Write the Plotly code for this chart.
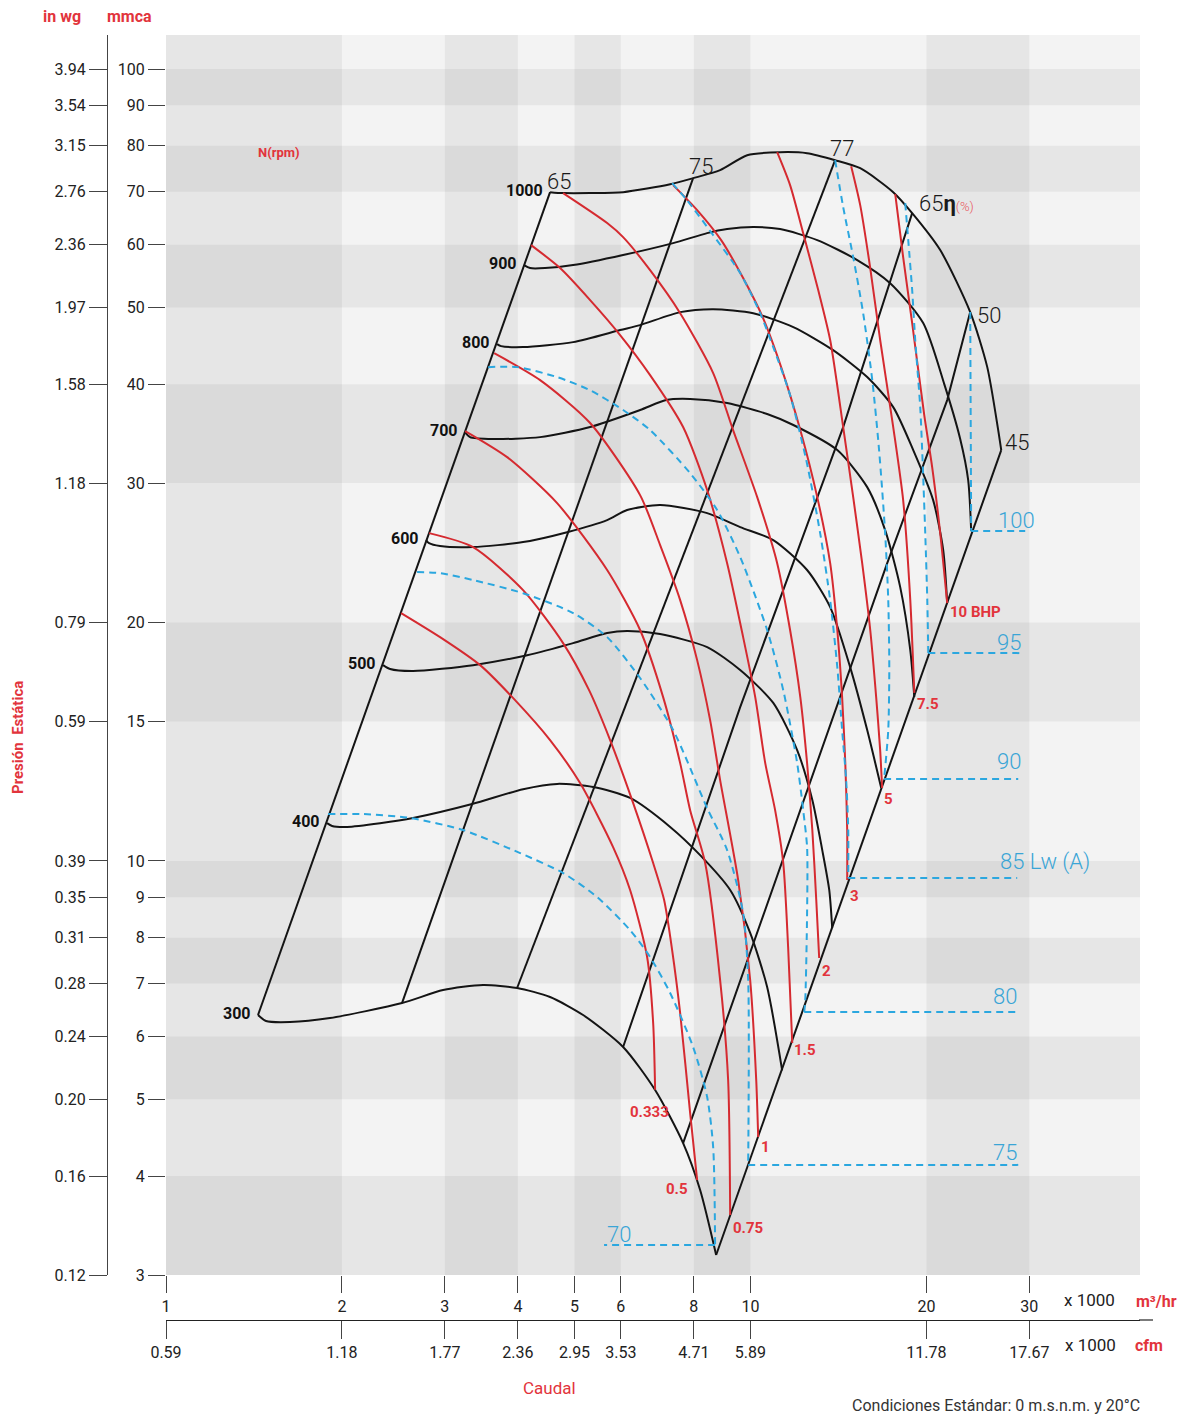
import math
import plotly.graph_objects as go

# ---------------- axis ticks ----------------
Q_TICKS = [1, 2, 3, 4, 5, 6, 8, 10, 20, 30]            # m3/hr x1000
CFM_TEXT = ["0.59", "1.18", "1.77", "2.36", "2.95", "3.53", "4.71", "5.89", "11.78", "17.67"]
P_TICKS = [3, 4, 5, 6, 7, 8, 9, 10, 15, 20, 30, 40, 50, 60, 70, 80, 90, 100]   # mmca
INWG_TEXT = ["0.12", "0.16", "0.20", "0.24", "0.28", "0.31", "0.35", "0.39", "0.59", "0.79",
             "1.18", "1.58", "1.97", "2.36", "2.76", "3.15", "3.54", "3.94"]
X_RANGE = [1.0, 46.4]
Y_RANGE = [3.0, 110.4]
COL_DARK = [(1, 2), (3, 4), (5, 6), (8, 10), (20, 30)]
ROW_DARK = [(3, 4), (5, 6), (7, 8), (9, 10), (15, 20), (30, 40), (50, 60), (70, 80), (90, 100)]

# ---------------- fan curves (N rpm): flow m3/hr x1000, pressure mmca ----------------
Q_300 = [1.437, 1.483, 1.630, 1.908, 2.534, 2.979, 3.487, 3.988, 4.541, 5.172, 6.055, 6.869, 7.670, 8.202, 8.736]
P_300 = [6.389, 6.278, 6.259, 6.333, 6.615, 6.869, 6.972, 6.911, 6.732, 6.389, 5.822, 5.137, 4.403, 3.841, 3.180]
Q_400 = [1.886, 1.924, 2.041, 2.324, 2.647, 3.340, 4.083, 4.669, 5.380, 6.224, 7.288, 8.202, 9.232, 9.989, 10.68, 11.33]
P_400 = [11.16, 11.07, 11.04, 11.16, 11.33, 11.80, 12.32, 12.51, 12.40, 12.01, 11.04, 10.17, 9.19, 8.11, 6.93, 5.44]
Q_500 = [2.352, 2.418, 2.647, 3.353, 4.148, 4.973, 5.686, 6.152, 7.006, 8.432, 9.603, 10.94, 12.02, 12.76, 13.27, 13.64, 13.80]
P_500 = [17.67, 17.47, 17.37, 17.67, 18.19, 18.84, 19.40, 19.51, 19.34, 18.62, 17.42, 15.83, 13.80, 11.94, 10.32, 9.19, 8.23]
Q_600 = [2.786, 2.819, 2.944, 3.353, 4.083, 4.856, 5.686, 6.152, 7.006, 8.432, 9.603, 10.94, 12.50, 13.69, 14.81, 15.84, 16.74]
P_600 = [25.42, 25.19, 24.98, 24.91, 25.27, 26.01, 26.94, 27.74, 28.14, 27.49, 26.40, 25.42, 23.30, 20.92, 17.57, 14.63, 12.36]
Q_700 = [3.249, 3.313, 3.627, 4.366, 5.317, 6.474, 7.173, 7.885, 9.122, 10.68, 11.84, 14.08, 15.84, 17.00, 18.04, 18.77, 19.07]
P_700 = [34.79, 34.29, 34.10, 34.29, 35.31, 37.10, 38.19, 38.31, 37.86, 36.67, 35.52, 33.02, 29.65, 26.17, 22.17, 18.46, 16.10]
Q_800 = [3.686, 3.744, 4.083, 4.973, 5.984, 6.474, 7.581, 8.634, 10.11, 11.84, 13.85, 15.84, 17.55, 18.99, 20.54, 21.37, 21.71]
P_800 = [44.94, 44.68, 44.55, 45.20, 46.81, 47.49, 49.32, 49.75, 49.17, 47.22, 44.16, 40.83, 37.42, 33.02, 28.55, 24.69, 21.16]
Q_900 = [4.099, 4.197, 4.452, 4.973, 6.055, 7.374, 8.432, 9.122, 10.11, 11.24, 13.01, 15.23, 17.34, 19.75, 21.46, 22.85, 23.58, 23.86]
P_900 = [56.55, 56.06, 56.06, 56.55, 58.23, 60.28, 62.06, 62.79, 63.16, 62.79, 60.81, 57.38, 53.65, 47.77, 40.00, 34.10, 30.26, 26.09]
Q_1000 = [4.541, 4.780, 5.317, 6.055, 7.288, 7.978, 8.874, 9.872, 11.24, 12.50, 13.96, 15.41, 17.55, 18.91, 21.12, 23.77, 25.42, 26.54, 26.86]
P_1000 = [69.91, 69.71, 69.71, 69.91, 71.54, 72.81, 74.53, 77.84, 78.52, 78.29, 76.72, 74.95, 69.91, 65.77, 59.07, 49.32, 42.03, 35.00, 33.02]
RPM_NAMES = ["300", "400", "500", "600", "700", "800", "900", "1000"]

# ---------------- efficiency lines (system curves) ----------------
Q_E65A = [1.437, 4.541];                 P_E65A = [6.389, 69.91]
Q_E75 = [2.534, 7.978];                  P_E75 = [6.615, 72.81]
Q_E77 = [3.988, 13.96];                  P_E77 = [6.911, 76.72]
Q_E65B = [6.055, 9.603, 14.41, 18.91];   P_E65B = [5.822, 15.64, 35.31, 65.77]
Q_E50 = [7.670, 17.14, 21.71, 23.77];    P_E50 = [4.403, 23.77, 38.19, 49.32]
Q_E45 = [8.736, 26.86];                  P_E45 = [3.180, 33.02]
EFF_NAMES = ["65", "75", "77",
             "65<b>η</b><span style='color:#e8575d;font-size:13px'>(%)</span>", "50", "45"]

# ---------------- absorbed power curves (BHP) ----------------
Q_B0333 = [2.525, 2.944, 3.447, 3.956, 4.541, 5.111, 5.821, 6.224, 6.656, 6.816, 6.869]
P_B0333 = [20.56, 19.17, 17.67, 15.96, 14.21, 12.54, 10.41, 9.188, 7.562, 6.242, 5.14]
Q_B05 = [2.819, 3.353, 4.083, 4.780, 5.295, 5.753, 6.300, 6.816, 7.117, 7.345, 7.581, 7.885, 8.106]
P_B05 = [25.94, 24.91, 21.98, 18.84, 16.43, 14.21, 11.83, 9.938, 8.925, 7.718, 6.426, 4.804, 3.954]
Q_B075 = [3.249, 3.834, 4.669, 5.686, 6.474, 7.089, 7.581, 7.885, 8.366, 8.874, 9.158, 9.232]
P_B075 = [34.90, 32.35, 28.30, 23.30, 19.57, 16.10, 13.29, 11.59, 9.938, 7.073, 5.289, 3.571]
Q_B1 = [3.643, 4.366, 5.317, 6.474, 7.006, 7.581, 8.106, 8.531, 8.874, 9.528, 9.989, 10.23, 10.31]
P_B1 = [43.77, 40.47, 35.73, 28.97, 25.05, 21.35, 17.93, 15.06, 12.65, 9.458, 7.073, 5.289, 4.480]
Q_B15 = [4.214, 4.724, 5.317, 5.984, 6.734, 7.670, 8.432, 9.122, 9.716, 10.19, 10.60, 11.02, 11.38, 11.60, 11.79]
P_B15 = [59.93, 56.06, 51.07, 46.14, 41.07, 35.31, 29.40, 23.77, 19.17, 16.10, 13.29, 11.59, 9.938, 7.785, 5.889]
Q_B2 = [4.780, 5.686, 6.055, 6.734, 7.581, 8.634, 9.339, 10.27, 11.11, 11.69, 12.17, 12.50, 12.76, 12.96, 13.11]
P_B2 = [69.71, 63.90, 61.34, 55.72, 49.17, 41.31, 35.00, 28.80, 23.77, 19.57, 16.10, 13.29, 10.94, 8.925, 7.541]
Q_B3 = [7.374, 8.106, 8.910, 9.716, 10.51, 11.33, 12.17, 13.01, 13.69, 14.08, 14.35, 14.53, 14.64, 14.64]
P_B3 = [71.35, 66.35, 60.81, 54.45, 48.47, 41.67, 35.00, 28.80, 23.77, 19.57, 16.10, 13.29, 10.94, 9.458]
Q_B5 = [11.11, 11.69, 12.36, 13.06, 13.69, 14.41, 14.99, 15.53, 16.03, 16.41, 16.67, 16.80]
P_B5 = [78.52, 71.35, 61.34, 52.59, 45.48, 35.31, 28.80, 23.77, 19.57, 16.10, 13.80, 12.36]
Q_B75 = [14.87, 15.41, 16.03, 16.67, 17.55, 18.25, 18.77, 19.07]
P_B75 = [75.39, 67.32, 56.06, 45.48, 35.31, 28.55, 21.35, 16.30]
Q_B10 = [17.69, 18.25, 18.91, 19.83, 20.46, 21.12, 21.71]
P_B10 = [69.51, 57.88, 47.77, 36.57, 31.43, 25.94, 21.16]
BHP_NAMES = ["0.333", "0.5", "0.75", "1", "1.5", "2", "3", "5", "7.5", "10 BHP"]

# ---------------- sound power curves Lw(A) (last point = end of leader line) ----------------
Q_L70 = [1.894, 2.174, 2.616, 3.223, 4.036, 4.780, 5.465, 6.224, 6.734, 7.288, 7.978, 8.432, 8.634, 8.70, 5.617]
P_L70 = [11.46, 11.46, 11.33, 10.94, 10.23, 9.655, 9.004, 8.177, 7.562, 6.811, 5.822, 5.033, 4.351, 3.273, 3.273]
Q_L75 = [2.689, 2.944, 3.353, 4.083, 4.973, 5.686, 6.474, 7.374, 8.432, 9.122, 9.716, 9.911, 9.911, 28.72]
P_L75 = [23.16, 23.09, 22.63, 21.78, 20.56, 19.17, 17.02, 14.63, 11.66, 10.32, 8.594, 7.073, 4.132, 4.132]
Q_L80 = [3.557, 3.988, 4.669, 5.317, 6.055, 6.734, 7.885, 8.770, 9.603, 10.68, 11.38, 12.02, 12.31, 12.50, 12.50, 12.41, 12.36, 28.60]
P_L80 = [42.03, 42.03, 40.83, 39.30, 37.10, 35.00, 30.88, 27.74, 24.20, 19.57, 16.43, 13.29, 11.59, 10.41, 8.594, 6.673, 6.445, 6.445]
Q_L85 = [7.345, 7.788, 8.634, 9.603, 10.39, 10.94, 11.69, 12.46, 13.16, 13.69, 14.08, 14.35, 14.58, 14.70, 14.70, 28.60]
P_L85 = [71.77, 68.31, 61.69, 55.25, 49.17, 44.55, 38.75, 32.07, 25.94, 21.35, 17.57, 14.63, 12.65, 10.94, 9.515, 9.515]
Q_L90 = [13.96, 14.41, 14.99, 15.59, 16.16, 16.60, 17.00, 17.21, 17.28, 17.21, 16.93, 28.72]
P_L90 = [76.72, 66.94, 57.88, 49.17, 40.47, 33.02, 25.94, 21.35, 17.57, 14.63, 12.69, 12.69]
Q_L95 = [18.40, 18.62, 18.91, 19.14, 19.52, 19.67, 19.91, 20.07, 20.15, 28.94]
P_L95 = [67.71, 60.81, 52.59, 45.48, 37.42, 33.02, 25.94, 21.35, 18.30, 18.30]
Q_L100 = [23.77, 23.86, 29.52]
P_L100 = [49.32, 26.09, 26.09]
LW_NAMES = ["70", "75", "80", "85 Lw (A)", "90", "95", "100"]

# ---------------- layout / style ----------------
W, H = 1183, 1419
ML, MR, MT, MB = 80, 20, 35, 60
PW, PH = W - ML - MR, H - MT - MB


def fx(px):
    return (px - ML) / PW


def fy(py):
    return (H - MB - py) / PH


X_DOM = [fx(166), fx(1140)]
Y_DOM = [fy(1275), fy(35)]
LX = [math.log10(v) for v in X_RANGE]
LY = [math.log10(v) for v in Y_RANGE]

BLACK = "#141414"
RED = "#d52a30"
RED_TXT = "#e2343c"
BLUE = "#2ba7df"
BLUE_TXT = "#3aa5d6"
TXT = "#222222"
ROBOTO = "Roboto, sans-serif"

fig = go.Figure()


def add_line(q, p, color, width=2.0, dash=None, spline=True):
    fig.add_trace(go.Scatter(
        x=q, y=p, mode="lines",
        line=dict(color=color, width=width, dash=dash,
                  shape="spline" if spline else "linear", smoothing=0.7),
        hoverinfo="skip", showlegend=False))


RPM = [(Q_300, P_300), (Q_400, P_400), (Q_500, P_500), (Q_600, P_600),
       (Q_700, P_700), (Q_800, P_800), (Q_900, P_900), (Q_1000, P_1000)]
EFF = [(Q_E65A, P_E65A), (Q_E75, P_E75), (Q_E77, P_E77),
       (Q_E65B, P_E65B), (Q_E50, P_E50), (Q_E45, P_E45)]
BHP = [(Q_B0333, P_B0333), (Q_B05, P_B05), (Q_B075, P_B075), (Q_B1, P_B1), (Q_B15, P_B15),
       (Q_B2, P_B2), (Q_B3, P_B3), (Q_B5, P_B5), (Q_B75, P_B75), (Q_B10, P_B10)]
LW = [(Q_L70, P_L70), (Q_L75, P_L75), (Q_L80, P_L80), (Q_L85, P_L85),
      (Q_L90, P_L90), (Q_L95, P_L95), (Q_L100, P_L100)]

for q, p in EFF:
    add_line(q, p, BLACK, 2.0, spline=False)
for q, p in RPM:
    add_line(q, p, BLACK, 2.0)
for q, p in BHP:
    add_line(q, p, RED, 2.0)
for q, p in LW:
    add_line(q[:-1], p[:-1], BLUE, 2.0, dash="7px,5px", spline=len(q) > 3)
    add_line(q[-2:], p[-2:], BLUE, 2.0, dash="7px,5px", spline=False)

# dummy trace so the secondary (in wg / cfm) axes are drawn
fig.add_trace(go.Scatter(x=[2], y=[10], xaxis="x2", yaxis="y2", mode="markers",
                         marker=dict(opacity=0), hoverinfo="skip", showlegend=False))

# ---------------- background bands (data units on the log axes) ----------------
shapes = []
for a, b in COL_DARK:
    shapes.append(dict(type="rect", xref="x", yref="y domain", x0=a, x1=b,
                       y0=0, y1=1, fillcolor="rgba(0,0,0,0.05)", line=dict(width=0), layer="below"))
for a, b in ROW_DARK:
    shapes.append(dict(type="rect", xref="x domain", yref="y", x0=0, x1=1, y0=a, y1=b,
                       fillcolor="rgba(0,0,0,0.05)", line=dict(width=0), layer="below"))
# extension of the cfm axis line past the plot area
shapes.append(dict(type="line", xref="paper", yref="paper", x0=fx(1139), x1=fx(1153),
                   y0=fy(1320), y1=fy(1320), line=dict(color="#222222", width=1.2)))

# ---------------- labels ----------------
ann = []


def data_label(q, p, text, font, xanchor="center", dx=0, dy=0):
    ann.append(dict(x=math.log10(q), y=math.log10(p), xref="x", yref="y", text=text,
                    showarrow=False, xanchor=xanchor, yanchor="middle",
                    xshift=dx, yshift=dy, font=font))


rpm_font = dict(family=ROBOTO, size=16, color="#111111")
for (q, p), name in zip(RPM, RPM_NAMES):
    data_label(q[0], p[0], "<b>" + name + "</b>", rpm_font, "right", -5, 2)

eff_font = dict(family=ROBOTO, size=22, color="#1a1a1a", weight=300)
EFF_OFFSETS = [(-5, 11), (-6, 12), (-7, 12), (5, 10), (5, -3), (2, 8)]
for (q, p), name, (dx, dy) in zip(EFF, EFF_NAMES, EFF_OFFSETS):
    data_label(q[-1], p[-1], name, eff_font, "left", dx, dy)

bhp_font = dict(family=ROBOTO, size=15, color=RED_TXT)
BHP_OFFSETS = [(-6, -22), (-20, -9), (18, -13), (7, -10), (13, -7),
               (7, -13), (7, -16), (6, -11), (14, -11), (28, -9)]
for (q, p), name, (dx, dy) in zip(BHP, BHP_NAMES, BHP_OFFSETS):
    data_label(q[-1], p[-1], "<b>" + name + "</b>", bhp_font, "center", dx, dy)

lw_font = dict(family=ROBOTO, size=22, color=BLUE_TXT, weight=300)
LW_POS = [("left", 1, 11), ("right", 1, 12), ("right", 2, 16), ("left", -19, 16),
          ("right", 5, 18), ("right", 3, 11), ("right", 12, 11)]
for (q, p), name, (xa, dx, dy) in zip(LW, LW_NAMES, LW_POS):
    data_label(q[-1], p[-1], name, lw_font, xa, dx, dy)


def paper_text(px, py, text, size, color, family=ROBOTO, angle=0, xanchor="center"):
    ann.append(dict(x=fx(px), y=fy(py), xref="paper", yref="paper", text=text, showarrow=False,
                    xanchor=xanchor, yanchor="middle", textangle=angle,
                    font=dict(family=family, size=size, color=color)))


paper_text(62, 16, "<b>in wg</b>", 16, RED_TXT)
paper_text(129, 16, "<b>mmca</b>", 16, RED_TXT)
paper_text(18, 738, "<b>Presión  Estática</b>", 15, RED_TXT, angle=-90)
paper_text(279, 153, "<b>N(rpm)</b>", 13, RED_TXT)
paper_text(549, 1388, "Caudal", 17, RED_TXT)
paper_text(1089, 1300, "x 1000", 17, TXT)
paper_text(1090, 1345, "x 1000", 17, TXT)
paper_text(1156, 1301, "<b>m³/hr</b>", 16, RED_TXT)
paper_text(1149, 1345, "<b>cfm</b>", 16, RED_TXT)
paper_text(996, 1406, "Condiciones Estándar: 0 m.s.n.m. y 20°C", 16, "#333333")

tick_font = dict(family=ROBOTO, size=16, color=TXT)
fig.update_layout(
    width=W, height=H,
    margin=dict(l=ML, r=MR, t=MT, b=MB, pad=0),
    paper_bgcolor="white", plot_bgcolor="#f3f3f3",
    showlegend=False,
    xaxis=dict(type="log", domain=X_DOM, range=LX, tickvals=Q_TICKS,
               ticktext=[str(v) for v in Q_TICKS], ticks="outside", ticklen=17,
               tickcolor="#444444", tickwidth=1, showgrid=False, zeroline=False,
               showline=False, tickfont=tick_font, anchor="y"),
    yaxis=dict(type="log", domain=Y_DOM, range=LY, tickvals=P_TICKS,
               ticktext=[str(v) for v in P_TICKS], ticks="outside", ticklen=17,
               tickcolor="#444444", tickwidth=1, showgrid=False, zeroline=False,
               showline=False, tickfont=tick_font, anchor="x"),
    xaxis2=dict(type="log", overlaying="x", anchor="free", position=fy(1320), side="bottom",
                range=LX, tickvals=Q_TICKS, ticktext=CFM_TEXT, ticks="outside", ticklen=18,
                tickcolor="#444444", showline=True, linecolor="#222222", linewidth=1.2,
                showgrid=False, zeroline=False, tickfont=tick_font),
    yaxis2=dict(type="log", overlaying="y", anchor="free", position=fx(107), side="left",
                range=LY, tickvals=P_TICKS, ticktext=INWG_TEXT, ticks="outside", ticklen=18,
                tickcolor="#444444", showline=True, linecolor="#444444", linewidth=1.2,
                showgrid=False, zeroline=False, tickfont=tick_font),
    shapes=shapes,
    annotations=ann,
)

fig.write_html("out.html", config={"displayModeBar": False},
               post_script="document.body.style.margin='0';document.body.style.padding='0';")
